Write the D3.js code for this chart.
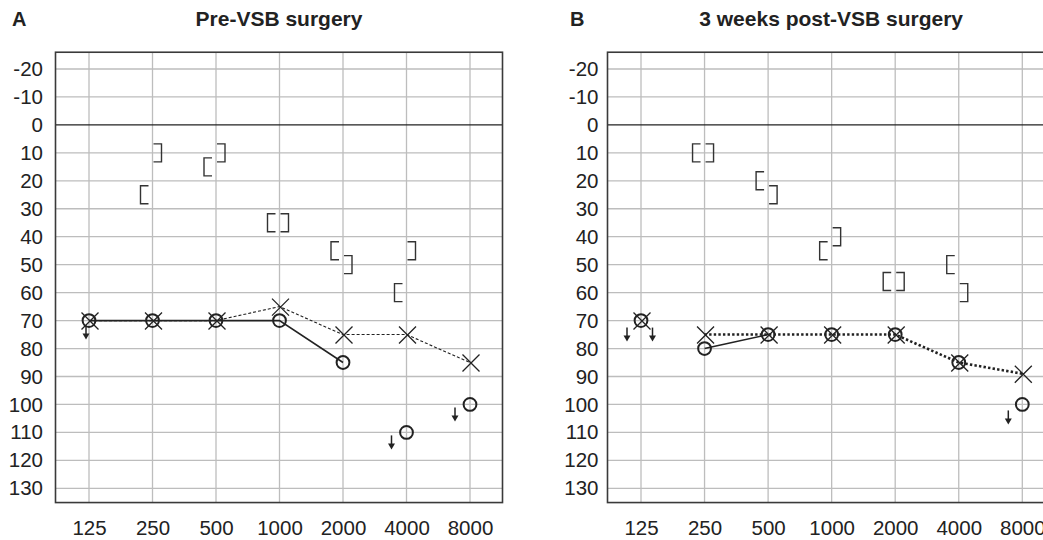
<!DOCTYPE html>
<html>
<head>
<meta charset="utf-8">
<script src="https://cdn.jsdelivr.net/npm/d3@7"></script>
<style>
  body { margin: 0; background: #fff; }
  svg { display: block; font-family: "Liberation Sans", Arial, sans-serif; }
</style>
</head>
<body>
<div id="chart"></div>
<script>
// frequencies (Hz) and hearing level ticks (dB)
var freqs = [125, 250, 500, 1000, 2000, 4000, 8000];
var dbTicks = [-20, -10, 0, 10, 20, 30, 40, 50, 60, 70, 80, 90, 100, 110, 120, 130];

// A: pre-VSB surgery
var preRightAC = [70, 70, 70, 70, 85, 110, 100];      // O
var preLeftAC = [70, 70, 70, 65, 75, 75, 85];          // X
var preRightLineFreqs = [125, 250, 500, 1000, 2000];   // solid line through O
var preLeftLineFreqs = [125, 250, 500, 1000, 2000, 4000, 8000]; // dotted through X
var preNoRespO = [4000, 8000];
var preNoRespX = [125];
var preBCRightFreqs = [250, 500, 1000, 2000, 4000];    // "["
var preBCRight = [25, 15, 35, 45, 60];
var preBCLeftFreqs = [250, 500, 1000, 2000, 4000];     // "]"
var preBCLeft = [10, 10, 35, 50, 45];

// B: 3 weeks post-VSB surgery
var postRightAC = [70, 80, 75, 75, 75, 85, 100];
var postLeftAC = [70, 75, 75, 75, 75, 85, 89];
var postRightLineFreqs = [250, 500];
var postLeftLineFreqs = [250, 500, 1000, 2000, 4000, 8000];
var postNoRespO = [125, 8000];
var postNoRespX = [125];
var postBCRightFreqs = [250, 500, 1000, 2000, 4000];
var postBCRight = [10, 20, 45, 56, 50];
var postBCLeftFreqs = [250, 500, 1000, 2000, 4000];
var postBCLeft = [10, 25, 40, 56, 60];

var svg = d3.select("#chart").append("svg")
    .attr("width", 1043)
    .attr("height", 540);

var y = d3.scaleLinear().domain([-20, 130]).range([69, 488.3]);

function drawPanel(p) {
    var x = d3.scalePoint().domain(freqs).range(p.xr);
    var x0 = x(125) - 33.5, x1 = x(8000) + 32.5;
    var yTop = y(-26), yBot = y(135.1);
    var g = svg.append("g");

    // letter + title
    g.append("text").attr("x", p.letterX).attr("y", 26)
        .attr("font-size", 20).attr("font-weight", "bold").attr("fill", "#222")
        .text(p.letter);
    g.append("text").attr("x", (x0 + x1) / 2).attr("y", 26)
        .attr("text-anchor", "middle")
        .attr("font-size", 21).attr("font-weight", "bold").attr("fill", "#222")
        .text(p.title);

    // grid
    g.selectAll(".vg").data(freqs).enter().append("line")
        .attr("x1", function(d) { return x(d); }).attr("x2", function(d) { return x(d); })
        .attr("y1", yTop).attr("y2", yBot)
        .attr("stroke", "#bdbdbd").attr("stroke-width", 1.3);
    g.selectAll(".hg").data(dbTicks).enter().append("line")
        .attr("x1", x0).attr("x2", x1)
        .attr("y1", function(d) { return y(d); }).attr("y2", function(d) { return y(d); })
        .attr("stroke", function(d) { return d === 0 ? "#222" : "#bdbdbd"; })
        .attr("stroke-width", function(d) { return d === 0 ? 1.4 : 1.3; });

    // frame
    g.append("rect").attr("x", x0).attr("y", yTop)
        .attr("width", x1 - x0).attr("height", yBot - yTop)
        .attr("fill", "none").attr("stroke", "#3a3a3a").attr("stroke-width", 1.6);

    // axis labels
    var yAxis = d3.axisLeft(y).tickValues(dbTicks).tickSize(0).tickPadding(p.yPad)
        .tickFormat(function(d) { return String(d); });
    g.append("g").attr("transform", "translate(" + x0 + ",0)").call(yAxis)
        .attr("font-size", 20.5).attr("font-family", "Liberation Sans, Arial, sans-serif")
        .call(function(a) { a.select(".domain").remove(); })
        .selectAll("text").attr("fill", "#222");
    var xAxis = d3.axisBottom(x).tickSize(0).tickPadding(0)
        .tickFormat(function(d) { return String(d); });
    g.append("g").attr("transform", "translate(0,520.5)").call(xAxis)
        .attr("font-size", 20.5).attr("font-family", "Liberation Sans, Arial, sans-serif")
        .call(function(a) { a.select(".domain").remove(); })
        .selectAll("text").attr("fill", "#222");

    // bone conduction brackets
    p.bcR.forEach(function(v, i) {
        var cx = x(p.bcRF[i]), cy = y(v);
        g.append("path")
            .attr("d", "M" + (cx - 4) + "," + (cy - 9) + "H" + (cx - 12) + "V" + (cy + 9) + "H" + (cx - 4))
            .attr("fill", "none").attr("stroke", "#333").attr("stroke-width", 1.4);
    });
    p.bcL.forEach(function(v, i) {
        var cx = x(p.bcLF[i]), cy = y(v);
        g.append("path")
            .attr("d", "M" + (cx + 1) + "," + (cy - 9) + "H" + (cx + 9) + "V" + (cy + 9) + "H" + (cx + 1))
            .attr("fill", "none").attr("stroke", "#333").attr("stroke-width", 1.4);
    });

    // lines
    var lineL = d3.line()
        .x(function(d) { return x(d); })
        .y(function(d) { return y(p.left[freqs.indexOf(d)]); });
    var lineR = d3.line()
        .x(function(d) { return x(d); })
        .y(function(d) { return y(p.right[freqs.indexOf(d)]); });
    g.append("path").datum(p.leftLine).attr("d", lineL)
        .attr("fill", "none").attr("stroke", "#222")
        .attr("stroke-width", p.dotW).attr("stroke-dasharray", p.dash);
    g.append("path").datum(p.rightLine).attr("d", lineR)
        .attr("fill", "none").attr("stroke", "#222").attr("stroke-width", 1.6);

    // X symbols (left ear)
    var s = 8.5;
    freqs.forEach(function(f, i) {
        var cx = x(f) + 1, cy = y(p.left[i]) + 0.5;
        g.append("path")
            .attr("d", "M" + (cx - s) + "," + (cy - s) + "L" + (cx + s) + "," + (cy + s) +
                "M" + (cx + s) + "," + (cy - s) + "L" + (cx - s) + "," + (cy + s))
            .attr("stroke", "#222").attr("stroke-width", 1.3);
    });
    // O symbols (right ear)
    freqs.forEach(function(f, i) {
        g.append("circle").attr("cx", x(f)).attr("cy", y(p.right[i])).attr("r", 6.4)
            .attr("fill", "none").attr("stroke", "#222").attr("stroke-width", 2);
    });

    // no-response arrows
    function arrow(f, db, dx, dy) {
        var ax = x(f) + dx, ay = y(db) + dy;
        g.append("line").attr("x1", ax).attr("x2", ax).attr("y1", ay).attr("y2", ay + 9)
            .attr("stroke", "#222").attr("stroke-width", 1.5);
        g.append("path")
            .attr("d", "M" + (ax - 3.5) + "," + (ay + 8) + "L" + (ax + 3.5) + "," + (ay + 8) + "L" + ax + "," + (ay + 14) + "Z")
            .attr("fill", "#222");
    }
    p.nrO.forEach(function(f) {
        var i = freqs.indexOf(f);
        arrow(f, p.right[i], p.nrODx(f), p.nrODy(f));
    });
    p.nrX.forEach(function(f) {
        var i = freqs.indexOf(f);
        arrow(f, p.left[i], p.nrXDx, p.nrXDy);
    });
}

drawPanel({
    letter: "A", letterX: 12, title: "Pre-VSB surgery",
    xr: [89, 470], yPad: 12.5,
    right: preRightAC, left: preLeftAC,
    rightLine: preRightLineFreqs, leftLine: preLeftLineFreqs,
    dotW: 1.1, dash: "3,2",
    bcR: preBCRight, bcRF: preBCRightFreqs, bcL: preBCLeft, bcLF: preBCLeftFreqs,
    nrO: preNoRespO, nrODx: function() { return -15; }, nrODy: function() { return 3; },
    nrX: preNoRespX, nrXDx: -3, nrXDy: 5
});

drawPanel({
    letter: "B", letterX: 570, title: "3 weeks post-VSB surgery",
    xr: [641, 1022.3], yPad: 9,
    right: postRightAC, left: postLeftAC,
    rightLine: postRightLineFreqs, leftLine: postLeftLineFreqs,
    dotW: 2.6, dash: "2.4,2.2",
    bcR: postBCRight, bcRF: postBCRightFreqs, bcL: postBCLeft, bcLF: postBCLeftFreqs,
    nrO: postNoRespO, nrODx: function() { return -14; }, nrODy: function(f) { return f === 125 ? 7 : 6; },
    nrX: postNoRespX, nrXDx: 11.5, nrXDy: 7
});
</script>
</body>
</html>
